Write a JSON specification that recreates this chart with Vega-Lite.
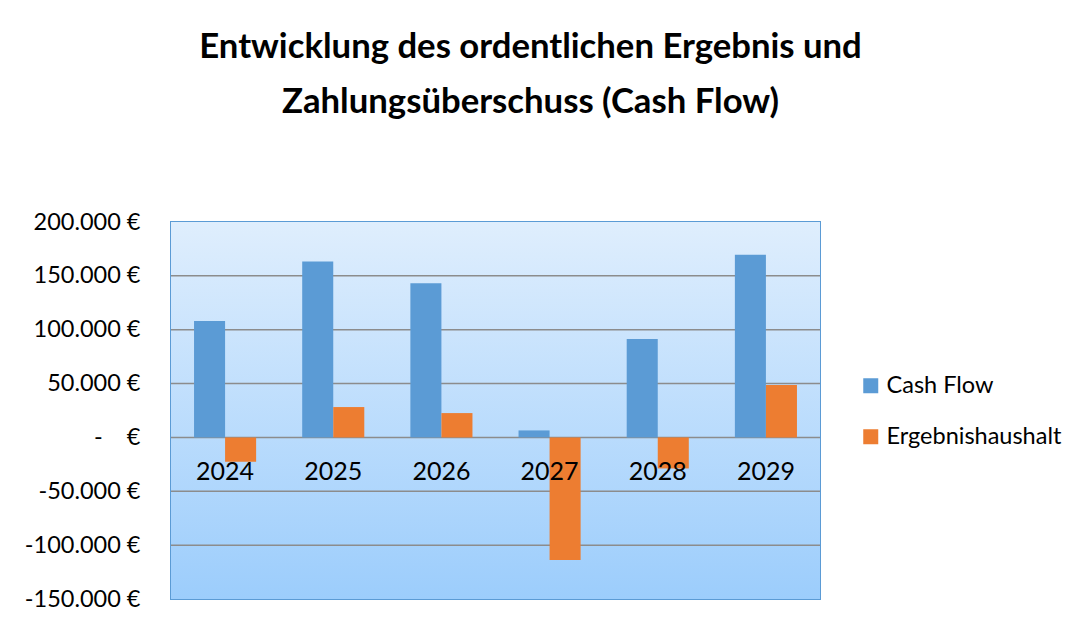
{
  "$schema": "https://vega.github.io/schema/vega-lite/v6.json",
  "width": 649,
  "height": 377,
  "autosize": {"type": "none"},
  "padding": {"left": 171, "top": 222, "right": 269, "bottom": 24},
  "background": "white",
  "config": {
    "font": "Lato",
    "view": {"stroke": "#5b9bd5", "strokeWidth": 2}
  },
  "title": {
    "text": ["Entwicklung des ordentlichen Ergebnis und", "Zahlungsüberschuss (Cash Flow)"],
    "font": "Lato",
    "fontSize": 34.7,
    "fontWeight": "bold",
    "color": "black",
    "anchor": "middle",
    "frame": "group",
    "dx": 35,
    "lineHeight": 55,
    "offset": 89
  },
  "datasets": {
    "flows": [
      {"Jahr": "2024", "Reihe": "Cash Flow", "Wert": 108200},
      {"Jahr": "2024", "Reihe": "Ergebnishaushalt", "Wert": -22600},
      {"Jahr": "2025", "Reihe": "Cash Flow", "Wert": 163400},
      {"Jahr": "2025", "Reihe": "Ergebnishaushalt", "Wert": 28200},
      {"Jahr": "2026", "Reihe": "Cash Flow", "Wert": 143200},
      {"Jahr": "2026", "Reihe": "Ergebnishaushalt", "Wert": 22600},
      {"Jahr": "2027", "Reihe": "Cash Flow", "Wert": 6500},
      {"Jahr": "2027", "Reihe": "Ergebnishaushalt", "Wert": -113800},
      {"Jahr": "2028", "Reihe": "Cash Flow", "Wert": 91400},
      {"Jahr": "2028", "Reihe": "Ergebnishaushalt", "Wert": -28800},
      {"Jahr": "2029", "Reihe": "Cash Flow", "Wert": 169600},
      {"Jahr": "2029", "Reihe": "Ergebnishaushalt", "Wert": 48700}
    ],
    "jahre": [
      {"Jahr": "2024"}, {"Jahr": "2025"}, {"Jahr": "2026"},
      {"Jahr": "2027"}, {"Jahr": "2028"}, {"Jahr": "2029"}
    ],
    "gitter": [
      {"Linie": -100000}, {"Linie": -50000}, {"Linie": 0},
      {"Linie": 50000}, {"Linie": 100000}, {"Linie": 150000}
    ]
  },
  "layer": [
    {
      "data": {"values": [{"bg": 1}]},
      "mark": {
        "type": "rect",
        "fill": {
          "gradient": "linear",
          "x1": 0, "y1": 0, "x2": 0, "y2": 1,
          "stops": [
            {"offset": 0, "color": "#dfeefd"},
            {"offset": 1, "color": "#9ccdfc"}
          ]
        }
      },
      "encoding": {
        "y": {"datum": 200000, "type": "quantitative", "scale": {"domain": [-150000, 200000], "nice": false, "zero": false}},
        "y2": {"datum": -150000}
      }
    },
    {
      "data": {"name": "gitter"},
      "mark": {"type": "rule", "color": "#8c8c8c", "strokeWidth": 1.5},
      "encoding": {
        "y": {"field": "Linie", "type": "quantitative"}
      }
    },
    {
      "data": {"name": "flows"},
      "mark": {"type": "bar"},
      "encoding": {
        "x": {
          "field": "Jahr", "type": "nominal", "axis": null,
          "scale": {"paddingInner": 0.426, "paddingOuter": 0.213}
        },
        "xOffset": {"field": "Reihe", "type": "nominal", "scale": {"paddingInner": 0, "paddingOuter": 0}},
        "y": {
          "field": "Wert", "type": "quantitative",
          "scale": {"domain": [-150000, 200000], "nice": false, "zero": false},
          "axis": {
            "title": null,
            "values": [-150000, -100000, -50000, 0, 50000, 100000, 150000, 200000],
            "labelExpr": "datum.value == 0 ? '-\u00a0\u00a0\u00a0\u00a0€' : replace(replace(format(datum.value, ','), ',', '.'), '\u2212', '-') + ' €'",
            "labelFont": "Lato",
            "labelFontSize": 23.5,
            "labelColor": "black",
            "labelPadding": 31,
            "ticks": false,
            "domain": false,
            "grid": false
          }
        },
        "color": {
          "field": "Reihe", "type": "nominal",
          "scale": {"domain": ["Cash Flow", "Ergebnishaushalt"], "range": ["#5b9bd5", "#ed7d31"]},
          "legend": {
            "title": null,
            "orient": "none",
            "legendX": 688,
            "legendY": 152,
            "symbolType": "square",
            "symbolSize": 225,
            "symbolStrokeWidth": 0,
            "labelFont": "Lato",
            "labelFontSize": 23.5,
            "labelColor": "black",
            "labelLimit": 400,
            "rowPadding": 26,
            "labelOffset": 4
          }
        }
      }
    },
    {
      "data": {"name": "jahre"},
      "mark": {"type": "text", "fontSize": 25, "font": "Lato", "color": "black", "dy": 35, "baseline": "middle"},
      "encoding": {
        "x": {"field": "Jahr", "type": "nominal"},
        "y": {"datum": 0, "type": "quantitative"},
        "text": {"field": "Jahr"}
      }
    }
  ],
  "resolve": {"scale": {"y": "shared"}}
}
